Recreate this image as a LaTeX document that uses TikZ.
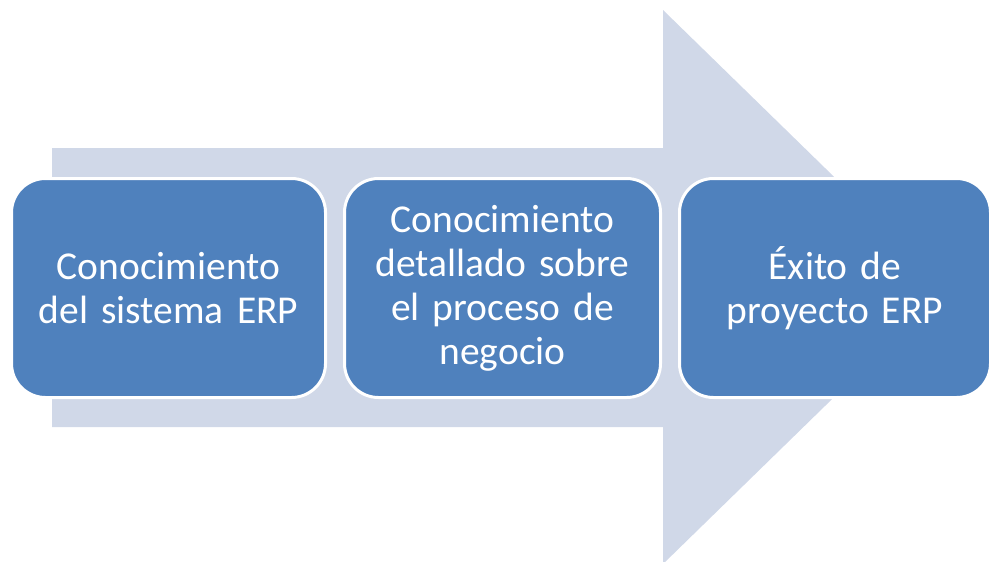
\documentclass[tikz,border=0pt]{standalone}
\usepackage{fontspec}
\setmainfont{Carlito}
\definecolor{boxblue}{HTML}{4F81BD}
\definecolor{arrowgrey}{HTML}{D0D8E8}
\tikzset{
  stagebox/.style={draw=white, line width=3pt, fill=boxblue, rounded corners=34pt,
    minimum height=219pt, inner sep=0pt, text=white, align=center,
    font=\fontsize{39.5}{44}\selectfont},
  bigarrow/.style={fill=arrowgrey, draw=none}
}
\begin{document}
\begin{tikzpicture}[x=1pt,y=-1pt]
\useasboundingbox (0,0) rectangle (994,562);
\clip (0,0) rectangle (994,562);
\fill[bigarrow] (52,148) -- (663,148) -- (663,10) -- (947,287) -- (663,564) -- (663,427) -- (52,427) -- cycle;
\node[stagebox, minimum width=314pt, text width=305pt] (b1) at (168.5,288) {Conocimiento\\del sistema ERP};
\node[stagebox, minimum width=316pt, text width=305pt] (b2) at (502.5,288) {Conocimiento\\detallado sobre\\el proceso de\\negocio};
\node[stagebox, minimum width=311pt, text width=305pt] (b3) at (835,288) {Éxito de\\proyecto ERP};
\end{tikzpicture}
\end{document}
